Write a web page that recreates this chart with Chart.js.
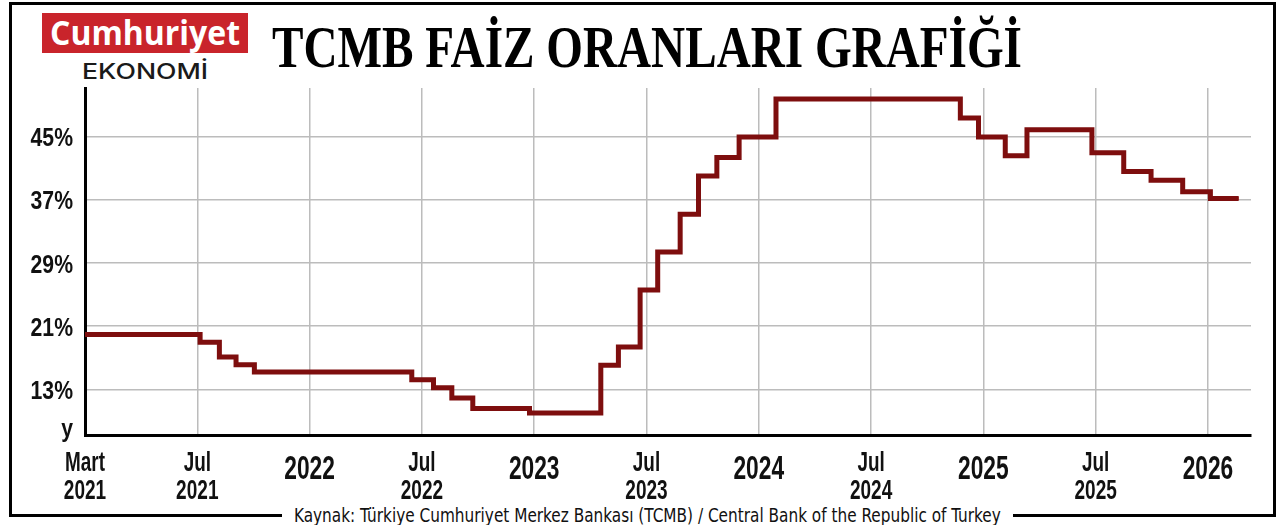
<!DOCTYPE html>
<html>
<head>
<meta charset="utf-8">
<script src="https://cdn.jsdelivr.net/npm/chart.js@4"></script>
<style>
  body { margin: 0; width: 1280px; height: 525px; background: #fff; position: relative; overflow: hidden; }
  .rule { position: absolute; background: #000; }
  .fit { position: absolute; display: inline-block; white-space: nowrap; transform-origin: 0 0; }
  #logoBox { position: absolute; left: 42px; top: 13px; width: 206px; height: 40px; background: #c9242b; }
  #logoText { left: 50px; top: 10px; font: 700 34px "Open Sans", sans-serif; color: #fff; line-height: 44px; }
  #ekonomi { left: 82px; top: 58px; font: 500 22px Inter, "Noto Sans", sans-serif; color: #1a1a1a; line-height: 26px; }
  #title { left: 272px; top: 17px; font: 700 60px "Liberation Serif", serif; color: #000; line-height: 60px; }
  #source { left: 282px; top: 503px; padding: 0 14px; background: #fff; font: 400 20px "Liberation Sans Narrow", "DejaVu Sans Condensed", sans-serif; color: #111; line-height: 24px; }
  #chartBox { position: absolute; left: 0; top: 80px; width: 1280px; height: 430px; }
</style>
</head>
<body>
<div class="rule" style="left:9px;top:2px;width:1267px;height:3px"></div>
<div class="rule" style="left:9px;top:2px;width:3px;height:515px"></div>
<div class="rule" style="left:1273px;top:2px;width:3px;height:515px"></div>
<div class="rule" style="left:9px;top:514px;width:1267px;height:3px"></div>

<div id="logoBox"></div>
<div class="fit" id="logoText">Cumhuriyet</div>
<div class="fit" id="ekonomi">EKONOMİ</div>
<div class="fit" id="title">TCMB FAİZ ORANLARI GRAFİĞİ</div>
<div class="fit" id="source">Kaynak: Türkiye Cumhuriyet Merkez Bankası (TCMB) / Central Bank of the Republic of Turkey</div>

<div id="chartBox"><canvas id="rateChart"></canvas></div>

<script>
// months counted from the left edge of the chart (Mart 2021 = 0)
const stepMonths = [0, 6.15, 7.18, 8.07, 9.05, 17.46, 18.62, 19.6, 20.72, 23.75, 27.56, 28.5, 29.66, 30.6,
    31.8, 32.78, 33.76, 34.95, 36.92, 46.77, 47.74, 49.17, 50.33, 53.8, 55.5, 56.96, 58.65, 60.13, 61.64];
const stepRates = [19.95, 18.95, 17.1, 16.1, 15.2, 14.2, 13.2, 11.9, 10.55, 10.0, 16.05, 18.35, 25.6, 30.4,
    35.2, 40.05, 42.4, 45, 49.8, 47.4, 45, 42.6, 45.9, 43.0, 40.6, 39.5, 38.05, 37.2, 37.2];

const xTicks = [0, 6, 12, 18, 24, 30, 36, 42, 48, 54, 60];
const xLabels = [['Mart', '2021'], ['Jul', '2021'], '2022', ['Jul', '2022'], '2023', ['Jul', '2023'],
    '2024', ['Jul', '2024'], '2025', ['Jul', '2025'], '2026'];
const yTicks = [7.2, 13, 21, 29, 37, 45];
const yLabels = ['y', '13%', '21%', '29%', '37%', '45%'];
const yMin = 7.2;
const yMax = 51.2;

//! ===== squeeze text boxes to the widths of the original =====
function fitWidth(id, w) {
    const el = document.getElementById(id);
    el.style.transform = `scaleX(${w / el.offsetWidth})`;
}
fitWidth('logoText', 190);
fitWidth('ekonomi', 126);
fitWidth('title', 750);
fitWidth('source', 731);

//! ===== condensed tick labels (no condensed bold font installed) =====
function drawSqueezed(ctx, text, x, y, size, sx, align) {
    ctx.save();
    ctx.translate(x, y);
    ctx.scale(sx, 1);
    ctx.font = `bold ${size}px "Liberation Sans", Arial, sans-serif`;
    ctx.textAlign = align;
    ctx.textBaseline = 'alphabetic';
    ctx.fillText(text, 0, 0);
    ctx.restore();
}

const tickLabelPlugin = {
    id: 'tickLabels',
    afterDraw(chart) {
        const ctx = chart.ctx;
        const xs = chart.scales.x;
        const ys = chart.scales.y;
        const axisY = xs.top;
        ctx.save();
        ctx.fillStyle = '#111';
        xTicks.forEach((v, i) => {
            const px = xs.getPixelForValue(v);
            const lab = xLabels[i];
            if (Array.isArray(lab)) {
                drawSqueezed(ctx, lab[0], px, axisY + 36, 27, 0.7, 'center');
                drawSqueezed(ctx, lab[1], px, axisY + 64, 28, 0.68, 'center');
            } else {
                drawSqueezed(ctx, lab, px, axisY + 44, 32.5, 0.7, 'center');
            }
        });
        yTicks.forEach((v, i) => {
            const py = ys.getPixelForValue(v);
            const off = v === yMin ? 2 : 9.5;
            drawSqueezed(ctx, yLabels[i], ys.right - 12, py + off, 26.5, 0.8, 'right');
        });
        ctx.restore();
    }
};

const points = stepMonths.map((m, i) => ({ x: m, y: stepRates[i] }));

new Chart(document.getElementById('rateChart'), {
    type: 'line',
    data: {
        datasets: [
            {
                data: points,
                stepped: true,
                borderColor: '#7e0e0e',
                borderWidth: 5,
                borderJoinStyle: 'miter',
                pointRadius: 0,
                fill: false
            },
            {
                data: points,
                stepped: true,
                borderColor: '#b71a1a',
                borderWidth: 3.2,
                borderJoinStyle: 'miter',
                pointRadius: 0,
                fill: false
            }
        ]
    },
    options: {
        responsive: true,
        maintainAspectRatio: false,
        animation: false,
        layout: { padding: { top: 8, right: 29, left: 0, bottom: 0 } },
        plugins: { legend: { display: false }, tooltip: { enabled: false } },
        scales: {
            x: {
                type: 'linear',
                min: 0,
                max: 62.3,
                afterBuildTicks: scale => { scale.ticks = xTicks.map(v => ({ value: v })); },
                afterFit: scale => { scale.height = 75; },
                grid: { color: '#bcbcbc', lineWidth: 1.5, drawTicks: false },
                border: { color: '#000', width: 3 },
                ticks: { display: false }
            },
            y: {
                min: yMin,
                max: yMax,
                afterBuildTicks: scale => { scale.ticks = yTicks.map(v => ({ value: v })); },
                afterFit: scale => { scale.width = 85; },
                grid: { color: '#bcbcbc', lineWidth: 1.5, drawTicks: false },
                border: { color: '#000', width: 3 },
                ticks: { display: false }
            }
        }
    },
    plugins: [tickLabelPlugin]
});
</script>
</body>
</html>
